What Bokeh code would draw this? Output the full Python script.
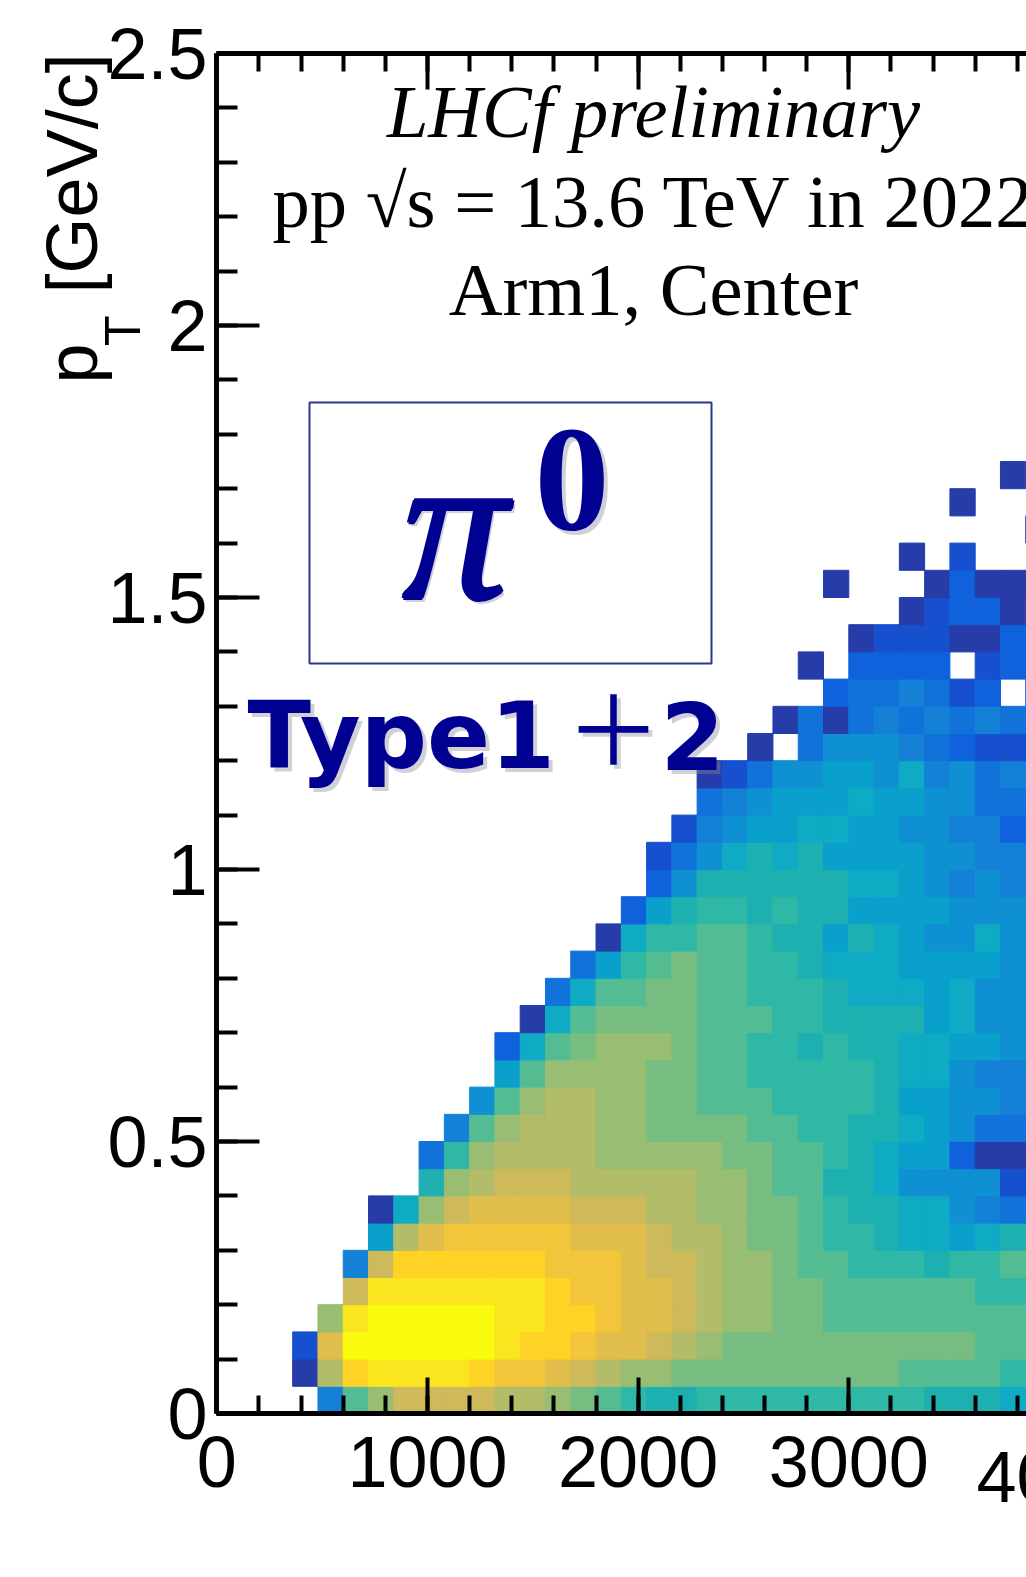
from bokeh.embed import file_html
from bokeh.resources import INLINE
from bokeh.plotting import figure
from bokeh.models import (ColumnDataSource, LinearColorMapper, LinearAxis, FixedTicker,
                          NumeralTickFormatter, Label, Range1d)
from bokeh.transform import transform

_ = None

# colour levels of the 2-D histogram (bins of 120 in x, 0.05 in pT)
palette = ["#263CA8", "#1650CE", "#0F62DC", "#1172DA", "#1480D6", "#0F90D2", "#09A0CC",
           "#0FAAC4", "#1EB0B0", "#2FB8A5", "#54BC93", "#77BD82", "#98BD73", "#B3BC68",
           "#CEB95B", "#E1BD4B", "#F3C53A", "#FED326", "#FBE51E", "#F9FB0E"]
x_bin = 120
y_bin = 0.05
first_col = 3

# one list per pT row (bottom row first), columns start at first_col
z_rows = [
 [_,4,10,12,14,14,14,14,13,13,12,11,10,9,8,8,9,9,9,9,9,9,9,9,9,8,8,8,7],
 [0,13,17,18,18,18,18,17,16,16,15,14,13,12,12,11,11,11,11,11,11,11,11,11,10,10,10,10,9],
 [1,15,19,19,19,19,19,19,18,17,17,16,15,15,14,13,12,11,11,11,11,11,11,11,11,11,11,10,10],
 [_,12,18,19,19,19,19,19,18,18,17,17,16,15,15,14,13,12,12,11,11,10,10,10,10,10,10,10,10],
 [_,_,14,18,18,18,18,18,18,18,17,16,16,15,15,14,13,12,12,11,11,10,10,10,10,10,10,9,9],
 [_,_,4,14,17,17,17,17,17,17,16,16,16,15,14,14,13,12,12,11,10,10,9,9,9,8,9,9,10],
 [_,_,_,6,13,15,16,16,16,16,16,15,15,15,14,13,13,12,11,11,10,9,9,8,7,7,6,7,8],
 [_,_,_,0,7,12,14,15,15,15,15,14,14,14,13,13,12,12,11,11,10,9,8,8,7,7,5,4,3],
 [_,_,_,_,_,8,12,13,14,14,14,13,13,13,13,13,12,12,11,10,10,8,8,7,5,5,5,5,1],
 [_,_,_,_,_,3,9,12,13,13,13,13,12,12,12,12,12,11,11,10,10,9,8,7,6,6,2,0,0],
 [_,_,_,_,_,_,4,10,12,13,13,13,12,12,11,11,11,11,10,10,9,9,8,8,7,6,5,3,3],
 [_,_,_,_,_,_,_,5,10,12,13,13,12,12,11,11,10,10,10,9,9,9,9,8,6,6,5,5,4],
 [_,_,_,_,_,_,_,_,6,10,12,12,12,12,11,11,10,10,9,9,9,9,9,8,7,7,5,4,4],
 [_,_,_,_,_,_,_,_,2,7,10,11,12,12,12,11,10,10,9,9,8,9,8,8,7,7,6,6,5],
 [_,_,_,_,_,_,_,_,_,0,7,10,11,11,11,11,10,10,10,9,9,8,8,8,8,6,7,5,5],
 [_,_,_,_,_,_,_,_,_,_,3,7,10,10,11,11,10,10,9,9,9,8,7,7,7,6,7,5,5],
 [_,_,_,_,_,_,_,_,_,_,_,3,6,9,10,11,10,10,9,9,8,7,7,7,6,6,6,6,5],
 [_,_,_,_,_,_,_,_,_,_,_,_,0,7,9,9,10,10,9,8,8,6,8,7,6,5,5,7,5],
 [_,_,_,_,_,_,_,_,_,_,_,_,_,2,6,8,9,9,8,9,8,8,6,6,6,6,5,5,5],
 [_,_,_,_,_,_,_,_,_,_,_,_,_,_,2,5,8,8,8,8,8,8,7,7,6,5,4,5,4],
 [_,_,_,_,_,_,_,_,_,_,_,_,_,_,1,3,5,7,8,7,8,6,6,6,6,5,5,4,4],
 [_,_,_,_,_,_,_,_,_,_,_,_,_,_,_,1,4,5,6,6,7,7,6,6,5,5,4,4,2],
 [_,_,_,_,_,_,_,_,_,_,_,_,_,_,_,_,3,4,5,6,6,6,7,6,6,5,5,3,3],
 [_,_,_,_,_,_,_,_,_,_,_,_,_,_,_,_,0,1,3,5,5,6,6,5,7,4,5,3,4],
 [_,_,_,_,_,_,_,_,_,_,_,_,_,_,_,_,_,_,0,_,3,5,5,5,4,3,2,1,1],
 [_,_,_,_,_,_,_,_,_,_,_,_,_,_,_,_,_,_,_,0,3,0,3,4,3,4,3,4,3],
 [_,_,_,_,_,_,_,_,_,_,_,_,_,_,_,_,_,_,_,_,_,2,3,3,4,3,1,2,_],
 [_,_,_,_,_,_,_,_,_,_,_,_,_,_,_,_,_,_,_,_,0,_,2,2,2,2,_,1,2],
 [_,_,_,_,_,_,_,_,_,_,_,_,_,_,_,_,_,_,_,_,_,_,0,1,1,1,0,0,2],
 [_,_,_,_,_,_,_,_,_,_,_,_,_,_,_,_,_,_,_,_,_,_,_,_,0,1,2,2,0],
 [_,_,_,_,_,_,_,_,_,_,_,_,_,_,_,_,_,_,_,_,_,0,_,_,_,0,2,0,0],
 [_,_,_,_,_,_,_,_,_,_,_,_,_,_,_,_,_,_,_,_,_,_,_,_,0,_,1,_,_],
 [_,_,_,_,_,_,_,_,_,_,_,_,_,_,_,_,_,_,_,_,_,_,_,_,_,_,_,_,_],
 [_,_,_,_,_,_,_,_,_,_,_,_,_,_,_,_,_,_,_,_,_,_,_,_,_,_,0,_,_],
 [_,_,_,_,_,_,_,_,_,_,_,_,_,_,_,_,_,_,_,_,_,_,_,_,_,_,_,_,0],
]
# the column that only just enters the frame at the right edge
z_last_col = [7,9,10,10,9,10,8,3,1,0,3,4,4,5,5,5,5,5,5,4,4,3,3,4,1,3,2,2,2,_,0,_,0,_,_]

x_major = [0, 1000, 2000, 3000]
x_minor = [v for v in range(0, 4001, 200)]
y_major = [0, 0.5, 1, 1.5, 2, 2.5]
y_minor = [round(0.1 * k, 1) for k in range(26)]

title_lines = ["LHCf preliminary", "pp √s = 13.6 TeV in 2022", "Arm1, Center"]

# layout (page pixels)
FIG_W, FIG_H = 1026, 1577
LEFT, TOP, BOTTOM = 216, 53, 1413
X0_PX, X_SCALE = 216.35, 0.21065      # px of x=0, px per unit x
Y_SCALE = (BOTTOM - TOP) / 2.5

def dx(px):
    return (px - X0_PX) / X_SCALE

def dy(py):
    return (BOTTOM - py) / Y_SCALE

left, right, bottom, top, z = [], [], [], [], []
for j, row in enumerate(z_rows):
    assert len(row) == 29, j
    cells = row + [z_last_col[j]]
    for k, level in enumerate(cells):
        if level is None:
            continue
        i = first_col + k
        left.append(i * x_bin)
        right.append((i + 1) * x_bin)
        bottom.append(j * y_bin)
        top.append((j + 1) * y_bin)
        z.append(level)

src = ColumnDataSource(dict(left=left, right=right, bottom=bottom, top=top, z=z))

p = figure(width=FIG_W, height=FIG_H, output_backend="svg", toolbar_location=None,
           x_range=Range1d(dx(LEFT), dx(FIG_W)), y_range=Range1d(0, 2.5),
           min_border_left=LEFT, min_border_right=0, min_border_top=TOP,
           min_border_bottom=FIG_H - BOTTOM, x_axis_location=None, y_axis_location=None)
p.grid.visible = False
p.outline_line_color = None
p.background_fill_color = "white"

mapper = LinearColorMapper(palette=palette, low=-0.5, high=19.5)
p.quad(left="left", right="right", bottom="bottom", top="top", source=src,
       fill_color=transform("z", mapper), line_color=transform("z", mapper), line_width=1)

# box with the particle name
p.quad(left=[dx(309)], right=[dx(711)], top=[dy(402)], bottom=[dy(663)],
       fill_color="white", line_color="#2B3990", line_width=2)

def style(ax, major_in, minor_in):
    ax.axis_line_width = 5
    ax.axis_line_color = "black"
    ax.major_tick_line_width = 4
    ax.minor_tick_line_width = 4
    ax.major_tick_line_color = "black"
    ax.minor_tick_line_color = "black"
    ax.major_tick_in = major_in
    ax.major_tick_out = 0
    ax.minor_tick_in = minor_in
    ax.minor_tick_out = 0

xb = LinearAxis(ticker=FixedTicker(ticks=x_major, minor_ticks=x_minor),
                formatter=NumeralTickFormatter(format="0"))
style(xb, 36, 18)
xb.major_label_text_font = "Liberation Sans"
xb.major_label_text_font_size = "72px"
xb.major_label_text_color = "black"
xb.major_label_standoff = 23
p.add_layout(xb, "below")

xt = LinearAxis(ticker=FixedTicker(ticks=x_major, minor_ticks=x_minor),
                major_label_overrides={v: "" for v in x_major})
style(xt, 36, 18)
xt.major_label_standoff = 0
p.add_layout(xt, "above")

yl = LinearAxis(ticker=FixedTicker(ticks=y_major, minor_ticks=y_minor),
                formatter=NumeralTickFormatter(format="0.[0]"))
style(yl, 43, 21)
yl.major_label_text_font = "Liberation Sans"
yl.major_label_text_font_size = "72px"
yl.major_label_text_color = "black"
yl.major_label_standoff = 9
p.add_layout(yl, "left")

NBSP = "\u00a0"

def text_axis(text, side, size, standoff, align="center"):
    # tickless axis in the border: carries a text that lies outside the frame
    ax = LinearAxis(ticker=FixedTicker(ticks=[]),
                    axis_label=text, axis_label_text_font="Liberation Sans",
                    axis_label_text_font_size=f"{size}px", axis_label_text_font_style="normal",
                    axis_label_text_color="black", axis_label_standoff=standoff,
                    axis_label_align=align, axis_line_color=None,
                    major_tick_line_color=None, minor_tick_line_color=None,
                    major_tick_in=0, major_tick_out=0, minor_tick_in=0, minor_tick_out=0,
                    major_label_standoff=0)
    p.add_layout(ax, side)

# the x label that the window cuts off
text_axis(NBSP * 3 + "4000", "below", 72, -53, align="end")

# y title: the leading blanks move each piece up the axis from its centre
text_axis(NBSP * 58 + "T", "left", 50, -46)
text_axis(NBSP * 56 + "[GeV/c]", "left", 72, -20)
text_axis(NBSP * 37 + "p", "left", 72, -83)

BASE = {"Liberation Serif": 0.34, "Liberation Sans": 0.34, "DejaVu Sans": 0.34, "Noto Sans CJK JP": 0.476}

def label(text, px, py, font, size, style_="normal", color="black", align="left", alpha=1.0):
    py = py - BASE[font] * size
    p.add_layout(Label(x=dx(px), y=dy(py), text=text, text_font=font, text_font_size=f"{size}px",
                       text_font_style=style_, text_color=color, text_align=align,
                       text_baseline="alphabetic", text_alpha=alpha))

# header
label(title_lines[0], 653, 137, "Liberation Serif", 74.5, "italic", align="center")
label(title_lines[1], 272, 227, "Liberation Serif", 74.5)
label(title_lines[2], 653, 315, "Liberation Serif", 74.5, align="center")

NAVY = "#000091"
SHADOW = "#8A8A9A"
texts = [("0", 534, 531, "Liberation Serif", 150, "bold"),
         ("Type1", 247, 767, "DejaVu Sans", 93, "bold"),
         ("＋", 565, 723 + 0.476 * 96, "Noto Sans CJK JP", 96, "normal"),
         ("2", 660, 767, "DejaVu Sans", 92, "bold")]
pi_parts = ("π", 400, 598, "Liberation Serif", 212, "italic")
for t, px, py, font, size, st in [pi_parts] + texts:
    label(t, px + 4, py + 4, font, size, st, color=SHADOW, alpha=0.4)
for ox, oy in [(0, 0), (3, 0), (1.5, -2), (1.5, 2)]:
    t, px, py, font, size, st = pi_parts
    label(t, px + ox, py + oy, font, size, st, color=NAVY)
for t, px, py, font, size, st in texts:
    label(t, px, py, font, size, st, color=NAVY)

open("out.html", "w").write(file_html(p, INLINE))
